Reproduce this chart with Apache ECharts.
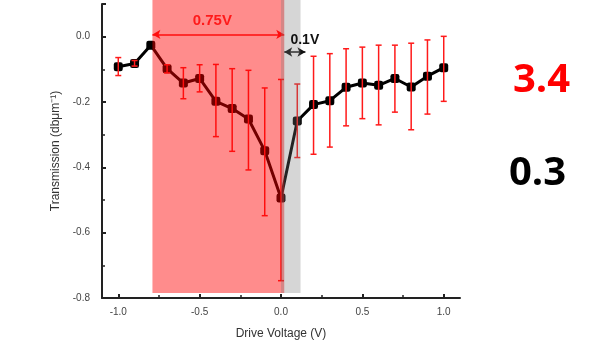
<!DOCTYPE html>
<html>
<head>
<meta charset="utf-8">
<script src="https://cdn.jsdelivr.net/npm/echarts@6/dist/echarts.min.js"></script>
<style>
  html, body { margin: 0; padding: 0; background: #fff; }
  #chart { width: 597px; height: 346px; }
</style>
</head>
<body>
<div id="chart"></div>
<script>
const voltages = [-1.0, -0.9, -0.8, -0.7, -0.6, -0.5, -0.4, -0.3, -0.2, -0.1, 0.0,
  0.1, 0.2, 0.3, 0.4, 0.5, 0.6, 0.7, 0.8, 0.9, 1.0]
const transmission = [-0.092, -0.082, -0.026, -0.098, -0.142, -0.128, -0.198, -0.22, -0.252, -0.349, -0.494,
  -0.258, -0.208, -0.196, -0.155, -0.142, -0.149, -0.128, -0.154, -0.121, -0.095]
const errTop = [-0.064, -0.073, -0.026, -0.086, -0.095, -0.086, -0.085, -0.098, -0.103, -0.157, -0.131,
  -0.145, -0.06, -0.052, -0.037, -0.032, -0.026, -0.026, -0.02, -0.01, 0.001]
const errBottom = [-0.119, -0.09, -0.026, -0.111, -0.19, -0.169, -0.306, -0.351, -0.408, -0.548, -0.747,
  -0.37, -0.36, -0.338, -0.273, -0.251, -0.27, -0.231, -0.285, -0.237, -0.198]

// shaded regions: [x0, x1, y0, y1]
const redBand = [-0.79, 0.02, -0.785, 0.115]
const grayBand = [0.0, 0.12, -0.785, 0.115]
const redArrow = { from: -0.79, to: 0.02, y: 0.007, text: "0.75V" }
const blackArrow = { from: 0.02, to: 0.15, y: -0.047, text: "0.1V" }
const sideValues = ["3.4", "0.3"]

// x range of the plot and of the labelled ticks
const xRange = [-1.1, 1.1]
const xTickRange = [-1.0, 1.0]

const W = 597
const gridLeft = 102
const gridRight = 137
const pxPerUnit = (W - gridLeft - gridRight) / (xRange[1] - xRange[0])
const tickLeft = gridLeft + (xTickRange[0] - xRange[0]) * pxPerUnit
const tickRight = gridRight + (xRange[1] - xTickRange[1]) * pxPerUnit

const chart = echarts.init(document.getElementById("chart"), null, { renderer: "canvas" })

const bandSeries = (band, color, z) => ({
  type: "custom",
  z: z,
  silent: true,
  clip: false,
  data: [band],
  renderItem: (params, api) => {
    const p0 = api.coord([api.value(0), api.value(3)])
    const p1 = api.coord([api.value(1), api.value(2)])
    return {
      type: "rect",
      shape: { x: p0[0], y: p0[1], width: p1[0] - p0[0], height: p1[1] - p0[1] },
      style: { fill: color },
    }
  },
})

const arrowLine = (a, color, size, offset) => ({
  type: "line",
  data: [],
  silent: true,
  markLine: {
    silent: true,
    animation: false,
    symbol: ["arrow", "arrow"],
    symbolSize: [7, 8],
    lineStyle: { color: color, width: 1.5, type: "solid" },
    label: {
      show: true,
      position: "insideMiddleTop",
      formatter: a.text,
      color: color,
      fontSize: size,
      fontWeight: "bold",
      fontFamily: "Liberation Sans",
      distance: 6,
      offset: offset,
    },
    data: [[{ coord: [a.from, a.y] }, { coord: [a.to, a.y] }]],
  },
})

const labelStyle = { fontSize: 10, color: "#444", fontFamily: "Liberation Sans" }
const nameStyle = { fontSize: 12, color: "#333", fontFamily: "Liberation Sans" }

const option = {
  animation: false,
  grid: [
    { left: gridLeft, right: gridRight, top: 4, bottom: 48 },
    { left: tickLeft, right: tickRight, top: 4, bottom: 48 },
  ],
  xAxis: [
    {
      gridIndex: 0,
      type: "value",
      min: xRange[0],
      max: xRange[1],
      name: "Drive Voltage (V)",
      nameLocation: "middle",
      nameGap: 30,
      nameTextStyle: nameStyle,
      axisLine: { onZero: false, lineStyle: { color: "#222", width: 2 } },
      axisTick: { show: false },
      axisLabel: { show: false },
      splitLine: { show: false },
    },
    {
      gridIndex: 1,
      type: "value",
      min: xTickRange[0],
      max: xTickRange[1],
      interval: 0.5,
      axisLine: { show: false, onZero: false },
      axisTick: { show: true, inside: true, length: 4, lineStyle: { color: "#222", width: 2 } },
      minorTick: { show: true, splitNumber: 2, length: 3, lineStyle: { color: "#222", width: 1.5 } },
      axisLabel: { ...labelStyle, margin: 9, formatter: (v) => v.toFixed(1) },
      splitLine: { show: false },
    },
  ],
  yAxis: [
    {
      gridIndex: 0,
      type: "value",
      min: -0.8,
      max: 0.1,
      interval: 0.2,
      name: "Transmission (dbμm⁻¹)",
      nameLocation: "middle",
      nameGap: 38,
      nameTextStyle: nameStyle,
      axisLine: { show: true, onZero: false, lineStyle: { color: "#222", width: 2 } },
      axisTick: { show: true, inside: true, length: 4, lineStyle: { color: "#222", width: 2 } },
      minorTick: { show: true, splitNumber: 2, length: 3, lineStyle: { color: "#222", width: 1.5 } },
      axisLabel: { ...labelStyle, margin: 12, showMaxLabel: false, formatter: (v) => v.toFixed(1) },
      splitLine: { show: false },
    },
    {
      gridIndex: 1,
      type: "value",
      min: -0.8,
      max: 0.1,
      show: false,
    },
  ],
  series: [
    {
      type: "line",
      z: 3,
      data: voltages.map((x, i) => [x, transmission[i]]),
      symbol: "roundRect",
      symbolSize: 9,
      itemStyle: { color: "#000" },
      lineStyle: { color: "#000", width: 3 },
    },
    {
      type: "custom",
      z: 4,
      data: voltages.map((x, i) => [x, errBottom[i], errTop[i]]),
      renderItem: (params, api) => {
        const lo = api.coord([api.value(0), api.value(1)])
        const hi = api.coord([api.value(0), api.value(2)])
        if (Math.abs(lo[1] - hi[1]) < 1) return null
        const cap = 3
        const style = { stroke: "#ff1a1a", lineWidth: 1.5 }
        return {
          type: "group",
          children: [
            { type: "line", shape: { x1: lo[0], y1: lo[1], x2: hi[0], y2: hi[1] }, style },
            { type: "line", shape: { x1: lo[0] - cap, y1: lo[1], x2: lo[0] + cap, y2: lo[1] }, style },
            { type: "line", shape: { x1: hi[0] - cap, y1: hi[1], x2: hi[0] + cap, y2: hi[1] }, style },
          ],
        }
      },
    },
    bandSeries(redBand, "rgba(255,0,0,0.45)", 5),
    bandSeries(grayBand, "rgba(120,120,120,0.3)", 5),
    arrowLine(redArrow, "#ff1a1a", 15, [-6, 0]),
    arrowLine(blackArrow, "#111", 14, [10, 1]),
  ],
  graphic: [
    {
      type: "text", left: 513, top: 61,
      style: { text: sideValues[0], fill: "#ff0000", font: "bold 40px 'Open Sans'" },
    },
    {
      type: "text", left: 509, top: 154,
      style: { text: sideValues[1], fill: "#000", font: "bold 40px 'Open Sans'" },
    },
  ],
}

chart.setOption(option)
</script>
</body>
</html>
